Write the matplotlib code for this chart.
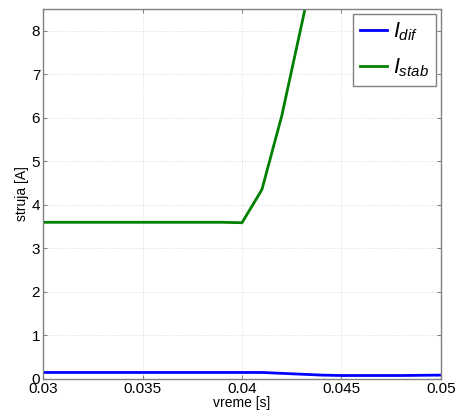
import matplotlib
matplotlib.use("Agg")
import matplotlib.pyplot as plt

plt.rcParams['font.family'] = ['Liberation Sans', 'DejaVu Sans']
plt.rcParams['mathtext.fontset'] = 'custom'
plt.rcParams['mathtext.it'] = 'Liberation Sans:italic'
plt.rcParams['mathtext.rm'] = 'Liberation Sans'

# time samples [s]
t = [0.030, 0.031, 0.032, 0.033, 0.034, 0.035, 0.036, 0.037, 0.038, 0.039,
     0.040, 0.041, 0.042, 0.043, 0.044, 0.045, 0.046, 0.047, 0.048, 0.049, 0.050]
# differential current [A]
i_dif = [0.15, 0.15, 0.15, 0.15, 0.15, 0.15, 0.15, 0.15, 0.15, 0.15,
         0.15, 0.15, 0.13, 0.11, 0.09, 0.08, 0.08, 0.08, 0.08, 0.085, 0.09]
# stabilising current [A]
i_stab = [3.6, 3.6, 3.6, 3.6, 3.6, 3.6, 3.6, 3.6, 3.6, 3.6,
          3.59, 4.35, 6.05, 8.15, 10.3, 12.4, 14.4, 16.3, 18.0, 19.5, 20.8]

xticks = [0.03, 0.035, 0.04, 0.045, 0.05]
xticklabels = ['0.03', '0.035', '0.04', '0.045', '0.05']
yticks = [0, 1, 2, 3, 4, 5, 6, 7, 8]

fig = plt.figure(figsize=(4.59, 4.16), dpi=100)
ax = fig.add_axes([43 / 459, 1 - 379 / 416, (441 - 43) / 459, (379 - 9) / 416])

ax.plot(t, i_dif, color='#0000ff', lw=2, label=r'$I_{dif}$')
ax.plot(t, i_stab, color='#008000', lw=2, label=r'$I_{stab}$')

ax.set_xlim(0.03, 0.05)
ax.set_ylim(0, 8.5)
ax.set_xticks(xticks)
ax.set_xticklabels(xticklabels)
ax.set_yticks(yticks)
ax.tick_params(direction='in', length=3, color='#808080', labelsize=11, pad=2,
               top=True, right=True)
ax.grid(True, linestyle=':', color='#d4d4d4', linewidth=0.6)
for s in ax.spines.values():
    s.set_color('#808080')
    s.set_linewidth(1.0)

ax.set_xlabel('vreme [s]', fontsize=10, labelpad=0)
ax.set_ylabel('struja [A]', fontsize=10, labelpad=2)

leg = ax.legend(loc='upper right', fontsize=15.5, handlelength=1.25, handletextpad=0.3,
                borderpad=0.3, labelspacing=0.62, fancybox=False, framealpha=1,
                borderaxespad=0.25)
leg.get_frame().set_edgecolor('#808080')
leg.get_frame().set_linewidth(1.0)

fig.savefig('out.png', dpi=100)
